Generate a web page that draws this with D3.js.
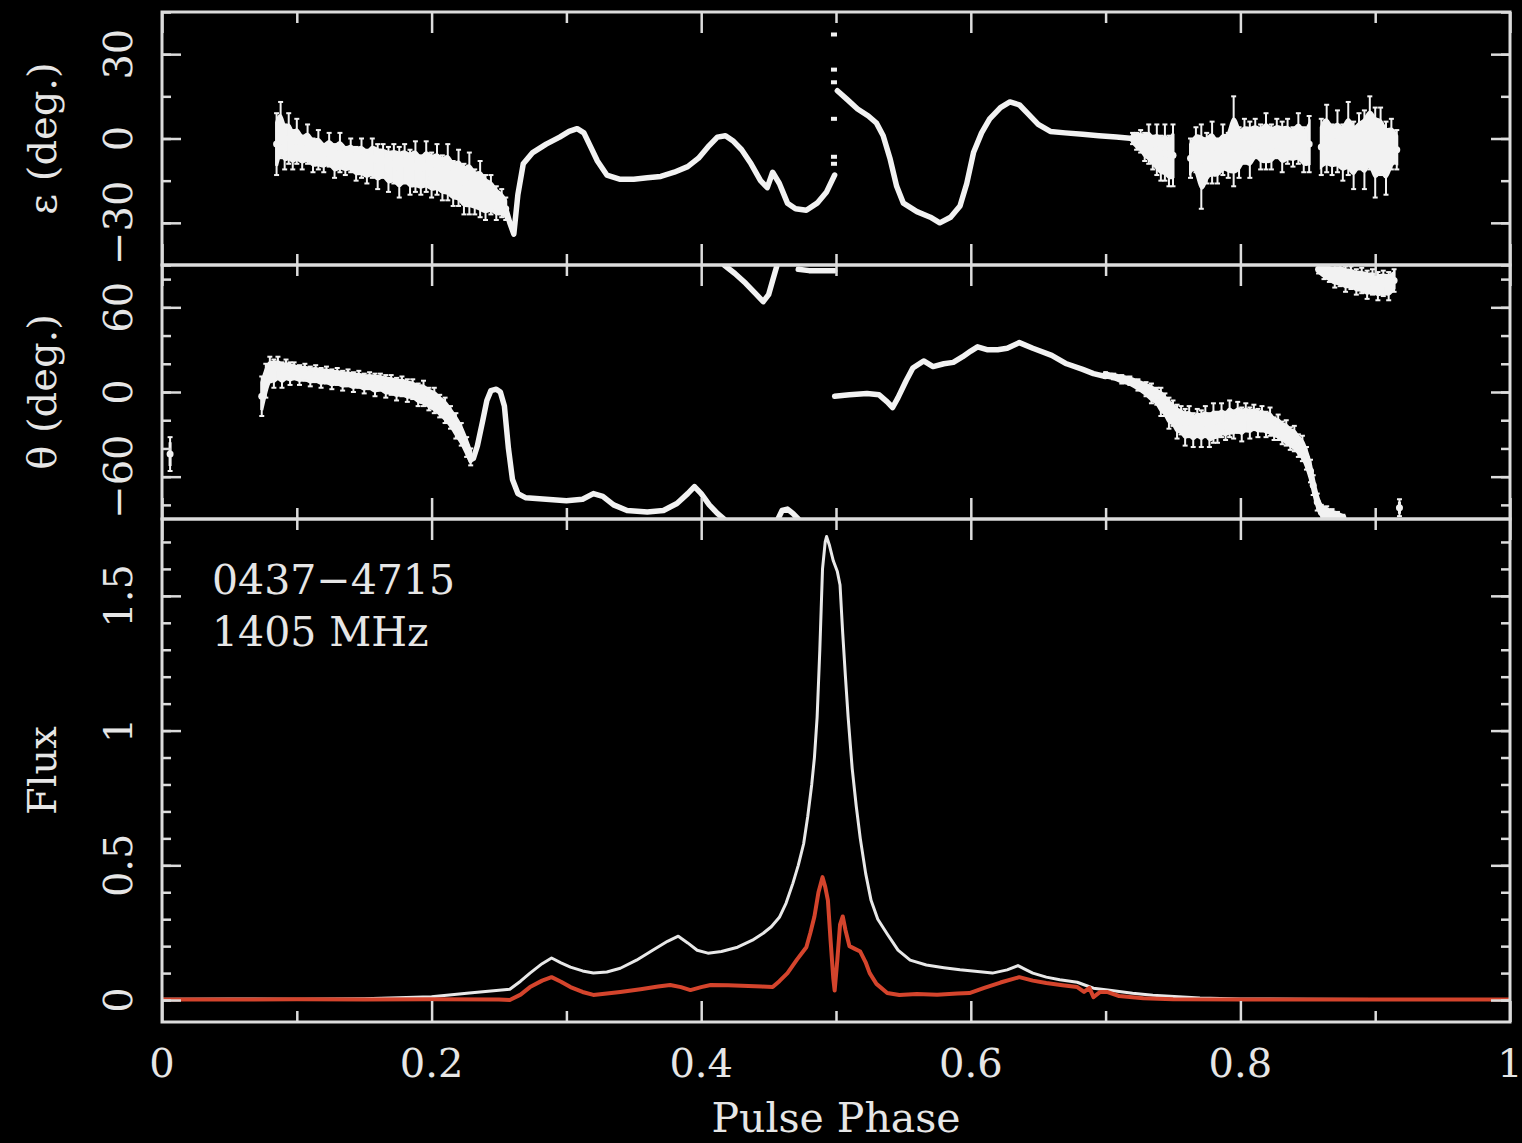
<!DOCTYPE html>
<html>
<head>
<meta charset="utf-8">
<script src="https://cdn.jsdelivr.net/npm/d3@7"></script>
<style>
body { margin: 0; background: #000; }
text { font-family: "DejaVu Serif", serif; fill: #e6e6e6; }
</style>
</head>
<body>
<script>
var width = 1522;
var height = 1143;
var left = 162, right = 1510;

// ---- data: [phase, value] or [phase, value, error] ----

// ellipticity angle, epsilon (deg.)
var epsNoisyA = [[0.085,-2,11],[0.088,3,10],[0.091,-3,8],[0.094,0,9],[0.097,-4,7],[0.100,-1,8],[0.104,-5,6],[0.108,-2,7],
    [0.112,-6,6],[0.116,-4,7],[0.120,-7,5],[0.124,-4,6],[0.128,-8,6],[0.132,-5,7],[0.136,-8,5],[0.140,-6,6],[0.144,-9,6],
    [0.148,-7,7],[0.152,-10,6],[0.156,-7,7],[0.160,-10,8],[0.164,-8,6],[0.168,-11,8],[0.172,-9,7],[0.176,-12,9],
    [0.180,-9,7],[0.184,-12,8],[0.188,-10,9],[0.192,-13,7],[0.196,-10,9],[0.200,-13,8],[0.204,-11,9],[0.208,-14,8],
    [0.212,-12,10],[0.216,-16,8],[0.220,-14,10],[0.224,-18,9],[0.228,-16,11],[0.232,-19,8],[0.236,-18,10],[0.240,-21,8],
    [0.244,-20,7],[0.248,-23,6],[0.252,-23,5],[0.255,-25,4]];
var epsSmoothB = [[0.255,-25],[0.258,-30],[0.261,-34],[0.264,-20],[0.268,-9],[0.275,-5],[0.285,-2],[0.295,0.5],[0.302,2.5],
    [0.308,3.5],[0.313,2],[0.318,-3],[0.323,-8],[0.330,-13],[0.340,-14.5],[0.350,-14.5],[0.360,-14],[0.370,-13.5],
    [0.380,-12],[0.390,-10],[0.398,-7],[0.405,-3],[0.412,0.5],[0.418,1],[0.424,-1],[0.430,-4],[0.437,-9],[0.444,-15],
    [0.449,-17.5],[0.453,-12],[0.458,-16],[0.464,-23],[0.470,-25],[0.478,-25.5],[0.486,-23],[0.493,-19],[0.499,-13]];
var epsDots = [[0.4985,37],[0.4985,24.5],[0.4985,20],[0.4985,7],[0.4985,-6.5],[0.4985,-9]];
var epsSmoothC = [[0.501,17],[0.508,14],[0.516,10.5],[0.524,8],[0.530,5.5],[0.535,1],[0.540,-7],[0.545,-17],[0.550,-23],
    [0.560,-26],[0.570,-28],[0.577,-30],[0.585,-28],[0.592,-24],[0.597,-16],[0.602,-5],[0.608,2],[0.614,7],[0.622,11],
    [0.629,13],[0.636,12],[0.642,9],[0.650,5],[0.659,2.5],[0.670,2],[0.683,1.5],[0.695,1],[0.708,0.5],[0.720,0]];
var epsNoisyD = [[0.720,0,2],[0.723,-1,3],[0.726,-1,4],[0.729,-3,5],[0.732,-2,7],[0.735,-5,6],[0.738,-4,9],[0.741,-7,8],
    [0.744,-5,10],[0.747,-8,9],[0.750,-6,11]];
var epsNoisyE = [[0.763,-7,7],[0.767,-4,8],[0.771,-10,15],[0.775,-7,9],[0.779,-5,11],[0.783,-8,8],[0.787,-4,9],[0.791,-6,8],
    [0.795,-1,16],[0.799,-5,9],[0.803,-1,8],[0.807,-4,10],[0.811,0,7],[0.815,-3,8],[0.819,-1,10],[0.823,-3,8],[0.827,0,7],
    [0.831,-3,9],[0.835,-1,8],[0.839,-3,7],[0.843,0,9],[0.847,-4,8],[0.851,-2,10]];
var epsNoisyF = [[0.860,-3,10],[0.864,0,12],[0.868,-4,9],[0.872,-1,11],[0.876,-5,10],[0.880,0,13],[0.884,-6,12],[0.888,-1,10],
    [0.892,-4,14],[0.896,2,13],[0.900,-5,16],[0.904,-1,12],[0.908,-7,13],[0.912,-2,9],[0.916,-4,7]];

// position angle theta (deg.)
var paNoisyA = [[0.074,-3,14],[0.077,8,12],[0.080,16,9],[0.083,13,10],[0.086,17,8],[0.089,12,9],[0.092,16,7],[0.095,13,8],
    [0.098,15,6],[0.102,12,7],[0.106,14,6],[0.110,11,7],[0.114,13,6],[0.118,10,7],[0.122,12,6],[0.126,9,7],[0.130,11,6],
    [0.134,8,7],[0.138,10,6],[0.142,7,7],[0.146,9,6],[0.150,6,7],[0.154,8,6],[0.158,5,8],[0.162,7,6],[0.166,4,8],
    [0.170,5,7],[0.174,2,8],[0.178,4,7],[0.182,1,8],[0.186,2,7],[0.190,-2,8],[0.194,-1,9],[0.198,-5,8],[0.202,-6,9],
    [0.206,-10,8],[0.210,-13,9],[0.214,-18,8],[0.218,-24,9],[0.222,-30,8],[0.226,-39,7],[0.229,-46,6]];
var paStray = [[0.006,-44,12]];
var paSmoothB = [[0.229,-48],[0.231,-47],[0.234,-38],[0.238,-20],[0.241,-6],[0.244,1],[0.248,2],[0.251,0],[0.254,-10],
    [0.257,-40],[0.260,-62],[0.264,-72],[0.270,-75],[0.285,-76],[0.300,-77],[0.312,-76],[0.320,-72],[0.327,-74],
    [0.335,-80],[0.345,-84],[0.360,-85],[0.372,-84],[0.382,-79],[0.390,-72],[0.395,-67],[0.400,-72],[0.406,-80],
    [0.412,-86],[0.417,-90]];
var paSmoothC = [[0.417,90],[0.425,84],[0.433,77],[0.440,70],[0.446,64],[0.450,69],[0.453,79],[0.456,89]];
var paSmoothD = [[0.457,-90],[0.460,-84],[0.464,-83],[0.468,-86],[0.472,-90]];
var paSmoothE = [[0.472,87],[0.480,86],[0.490,86],[0.499,86]];
var paSmoothF = [[0.499,-3],[0.510,-2],[0.523,-1],[0.532,-2],[0.538,-7],[0.542,-11],[0.546,-4],[0.552,8],[0.557,17],
    [0.565,22],[0.572,18],[0.580,20],[0.587,21],[0.594,25],[0.600,29],[0.605,32],[0.612,30],[0.620,30],[0.627,31],
    [0.636,35],[0.646,31],[0.660,26],[0.671,20],[0.683,16],[0.691,13],[0.700,11]];
var paNoisyG = [[0.700,12,2],[0.706,11,2],[0.712,9,3],[0.718,8,3],[0.724,5,4],[0.730,2,5],[0.734,-1,7],[0.738,-3,6],
    [0.741,-7,10],[0.744,-9,8],[0.747,-15,11],[0.750,-15,9],[0.753,-21,12],[0.756,-20,10],[0.759,-25,13],[0.762,-21,11],
    [0.765,-27,12],[0.768,-22,10],[0.771,-26,13],[0.774,-21,11],[0.777,-27,12],[0.780,-22,14],[0.783,-25,11],
    [0.786,-20,12],[0.789,-24,10],[0.792,-19,13],[0.795,-23,10],[0.798,-18,11],[0.801,-23,12],[0.804,-18,10],
    [0.807,-22,11],[0.810,-18,9],[0.813,-22,10],[0.816,-19,9],[0.819,-23,9],[0.822,-21,10],[0.825,-26,8],[0.828,-25,9],
    [0.831,-29,8],[0.834,-29,9],[0.837,-33,8],[0.840,-33,9],[0.843,-38,8],[0.846,-40,9],[0.849,-47,8],[0.852,-56,8],
    [0.854,-66,7],[0.857,-78,6],[0.860,-85,5],[0.864,-86,5],[0.868,-87,4],[0.872,-88,3],[0.876,-89,2]];
var paNoisyH = [[0.858,87,3],[0.862,85,5],[0.866,84,6],[0.870,82,8],[0.874,83,8],[0.878,80,9],[0.882,81,8],[0.886,78,9],
    [0.890,79,9],[0.894,76,10],[0.898,78,9],[0.902,75,10],[0.906,77,9],[0.910,75,10],[0.914,79,8]];
var paSingle = [[0.918,-82,6]];

// flux profiles: total intensity (white) and linear polarisation (red)
var totalFlux = [[0.00,0.003],[0.05,0.004],[0.10,0.003],[0.15,0.005],[0.20,0.012],[0.228,0.026],[0.258,0.04],[0.266,0.07],
    [0.273,0.10],[0.282,0.135],[0.289,0.156],[0.296,0.138],[0.303,0.122],[0.312,0.108],[0.320,0.100],[0.330,0.104],
    [0.340,0.118],[0.352,0.148],[0.364,0.185],[0.375,0.218],[0.383,0.237],[0.390,0.212],[0.397,0.185],[0.405,0.174],
    [0.415,0.180],[0.427,0.196],[0.438,0.222],[0.446,0.248],[0.452,0.272],[0.458,0.307],[0.463,0.36],[0.468,0.433],
    [0.472,0.50],[0.476,0.58],[0.479,0.68],[0.482,0.80],[0.484,0.90],[0.486,1.05],[0.488,1.30],[0.489,1.45],[0.490,1.60],
    [0.492,1.70],[0.493,1.72],[0.495,1.69],[0.498,1.63],[0.501,1.59],[0.503,1.54],[0.505,1.36],[0.507,1.20],[0.509,1.05],
    [0.512,0.86],[0.515,0.72],[0.518,0.60],[0.522,0.47],[0.526,0.37],[0.531,0.30],[0.538,0.245],[0.546,0.185],
    [0.555,0.148],[0.567,0.13],[0.580,0.12],[0.592,0.112],[0.605,0.106],[0.616,0.10],[0.627,0.112],[0.635,0.128],
    [0.640,0.115],[0.646,0.10],[0.656,0.085],[0.666,0.075],[0.679,0.066],[0.685,0.055],[0.691,0.044],[0.703,0.036],
    [0.720,0.025],[0.735,0.018],[0.770,0.008],[0.800,0.004],[0.850,0.003],[0.900,0.002],[0.950,0.002],[1.000,0.002]];
var linearFlux = [[0.00,0.002],[0.05,0.002],[0.10,0.003],[0.15,0.002],[0.20,0.003],[0.25,0.002],[0.258,0.0],[0.266,0.02],
    [0.273,0.048],[0.282,0.072],[0.289,0.085],[0.296,0.068],[0.303,0.048],[0.312,0.03],[0.320,0.019],[0.330,0.024],
    [0.340,0.03],[0.355,0.04],[0.368,0.05],[0.377,0.056],[0.385,0.048],[0.392,0.037],[0.400,0.048],[0.407,0.056],
    [0.420,0.055],[0.435,0.052],[0.445,0.05],[0.453,0.048],[0.458,0.07],[0.464,0.10],[0.471,0.15],[0.478,0.196],
    [0.481,0.25],[0.484,0.31],[0.487,0.40],[0.490,0.456],[0.492,0.42],[0.494,0.37],[0.496,0.22],[0.498,0.08],
    [0.499,0.035],[0.501,0.15],[0.503,0.28],[0.505,0.31],[0.507,0.26],[0.510,0.20],[0.514,0.19],[0.518,0.18],
    [0.522,0.14],[0.525,0.10],[0.530,0.06],[0.538,0.026],[0.547,0.019],[0.560,0.022],[0.575,0.02],[0.590,0.024],
    [0.599,0.026],[0.610,0.045],[0.622,0.065],[0.636,0.085],[0.646,0.072],[0.656,0.063],[0.668,0.055],[0.679,0.048],
    [0.684,0.03],[0.688,0.045],[0.691,0.011],[0.696,0.03],[0.701,0.03],[0.710,0.015],[0.728,0.007],[0.750,0.003],
    [0.800,0.002],[0.850,0.002],[0.900,0.002],[1.000,0.002]];

// tick labels
var phaseLabels = [0, 0.2, 0.4, 0.6, 0.8, 1];
var epsLabels = [-30, 0, 30];
var paLabels = [-60, 0, 60];
var fluxLabels = [0, 0.5, 1, 1.5];

// ---- layout ----
var panels = [
    { top: 12,  bottom: 265, y: d3.scaleLinear().domain([-45, 45]).range([265, 12]),
      major: [-30, 0, 30], minor: d3.range(-45, 46, 15), labels: epsLabels, title: "\u03b5 (deg.)" },
    { top: 265, bottom: 519, y: d3.scaleLinear().domain([-90, 90]).range([519, 265]),
      major: [-60, 0, 60], minor: d3.range(-80, 81, 20), labels: paLabels, title: "\u03b8 (deg.)" },
    { top: 519, bottom: 1022, y: d3.scaleLinear().domain([-0.0815, 1.7852]).range([1022, 519]),
      major: [0, 0.5, 1, 1.5], minor: d3.range(0, 1.75, 0.1), labels: fluxLabels, title: "Flux" }
];

var x = d3.scaleLinear().domain([0, 1]).range([left, right]);
var fg = "#dcdcdc";
var ink = "#f2f2f2";

var svg = d3.select("body")
    .append("svg")
    .attr("width", width)
    .attr("height", height)
    .style("background", "#000");

var defs = svg.append("defs");
panels.forEach( (p, i) => {
    defs.append("clipPath").attr("id", "clip" + i)
        .append("rect")
        .attr("x", left).attr("y", p.top)
        .attr("width", right - left).attr("height", p.bottom - p.top);
});

function drawSmooth(g, data, y) {
    g.append("path")
        .datum(data)
        .attr("fill", "none")
        .attr("stroke", ink)
        .attr("stroke-width", 5.5)
        .attr("stroke-linejoin", "round")
        .attr("stroke-linecap", "round")
        .attr("d", d3.line().x( (d) => x(d[0]) ).y( (d) => y(d[1]) ));
}

function drawNoisy(g, data, y) {
    // solid band, smoothed, with the individual error bars poking out of it
    g.append("path")
        .datum(data)
        .attr("fill", ink)
        .attr("stroke", ink)
        .attr("stroke-width", 3)
        .attr("d", d3.area()
            .curve(d3.curveBasis)
            .x( (d) => x(d[0]) )
            .y0( (d) => y(d[1] - d[2] * 0.7) )
            .y1( (d) => y(d[1] + d[2] * 0.7) ));
    var bars = g.selectAll(null)
        .data(data)
        .enter()
        .append("g")
        .attr("stroke", ink)
        .attr("stroke-width", 2);
    bars.append("line")
        .attr("x1", (d) => x(d[0])).attr("x2", (d) => x(d[0]))
        .attr("y1", (d) => y(d[1] - d[2])).attr("y2", (d) => y(d[1] + d[2]));
    bars.append("line")
        .attr("x1", (d) => x(d[0]) - 2.5).attr("x2", (d) => x(d[0]) + 2.5)
        .attr("y1", (d) => y(d[1] - d[2])).attr("y2", (d) => y(d[1] - d[2]));
    bars.append("line")
        .attr("x1", (d) => x(d[0]) - 2.5).attr("x2", (d) => x(d[0]) + 2.5)
        .attr("y1", (d) => y(d[1] + d[2])).attr("y2", (d) => y(d[1] + d[2]));
    bars.append("circle")
        .attr("cx", (d) => x(d[0]))
        .attr("cy", (d) => y(d[1]))
        .attr("r", 3.5)
        .attr("fill", ink)
        .attr("stroke", "none");
}

// ---- epsilon panel ----
var gEps = svg.append("g").attr("clip-path", "url(#clip0)");
var yE = panels[0].y;
drawNoisy(gEps, epsNoisyA, yE);
drawSmooth(gEps, epsSmoothB, yE);
drawSmooth(gEps, epsSmoothC, yE);
drawNoisy(gEps, epsNoisyD, yE);
drawNoisy(gEps, epsNoisyE, yE);
drawNoisy(gEps, epsNoisyF, yE);
gEps.selectAll(null)
    .data(epsDots)
    .enter()
    .append("rect")
    .attr("x", (d) => x(d[0]) - 3)
    .attr("y", (d) => yE(d[1]) - 2)
    .attr("width", 6)
    .attr("height", 4)
    .attr("fill", ink);

// ---- position angle panel ----
var gPa = svg.append("g").attr("clip-path", "url(#clip1)");
var yP = panels[1].y;
drawNoisy(gPa, paStray, yP);
drawNoisy(gPa, paNoisyA, yP);
drawSmooth(gPa, paSmoothB, yP);
drawSmooth(gPa, paSmoothC, yP);
drawSmooth(gPa, paSmoothD, yP);
drawSmooth(gPa, paSmoothE, yP);
drawSmooth(gPa, paSmoothF, yP);
drawNoisy(gPa, paNoisyG, yP);
drawNoisy(gPa, paNoisyH, yP);
drawNoisy(gPa, paSingle, yP);

// ---- flux panel ----
var gFlux = svg.append("g").attr("clip-path", "url(#clip2)");
var yF = panels[2].y;
gFlux.append("path")
    .datum(totalFlux)
    .attr("fill", "none")
    .attr("stroke", "#e8e8e8")
    .attr("stroke-width", 3)
    .attr("stroke-linejoin", "round")
    .attr("d", d3.line().x( (d) => x(d[0]) ).y( (d) => yF(d[1]) ));
gFlux.append("path")
    .datum(linearFlux)
    .attr("fill", "none")
    .attr("stroke", "#d4442c")
    .attr("stroke-width", 4)
    .attr("stroke-linejoin", "round")
    .attr("d", d3.line().x( (d) => x(d[0]) ).y( (d) => yF(d[1]) ));

// ---- frames and ticks ----
var majorPhase = d3.range(0, 1.01, 0.2);
var minorPhase = [0.1, 0.3, 0.5, 0.7, 0.9];

panels.forEach( (p) => {
    var g = svg.append("g");
    function tickAxis(axis, values, size, tx, ty) {
        g.append("g")
            .attr("transform", `translate(${tx},${ty})`)
            .call(axis.tickValues(values).tickSize(size).tickFormat(""))
            .call( (s) => s.select(".domain").remove() )
            .selectAll("line")
            .attr("stroke", fg)
            .attr("stroke-width", 2.5);
    }
    tickAxis(d3.axisTop(x), majorPhase, 21, 0, p.bottom);
    tickAxis(d3.axisTop(x), minorPhase, 11, 0, p.bottom);
    tickAxis(d3.axisBottom(x), majorPhase, 21, 0, p.top);
    tickAxis(d3.axisBottom(x), minorPhase, 11, 0, p.top);
    tickAxis(d3.axisRight(p.y), p.major, 19, left, 0);
    tickAxis(d3.axisRight(p.y), p.minor, 9, left, 0);
    tickAxis(d3.axisLeft(p.y), p.major, 19, right, 0);
    tickAxis(d3.axisLeft(p.y), p.minor, 9, right, 0);

    g.append("rect")
        .attr("x", left).attr("y", p.top)
        .attr("width", right - left).attr("height", p.bottom - p.top)
        .attr("fill", "none")
        .attr("stroke", fg)
        .attr("stroke-width", 3);

    // rotated y tick labels
    g.selectAll(null)
        .data(p.labels)
        .enter()
        .append("text")
        .attr("transform", (d) => `translate(132,${p.y(d)}) rotate(-90)`)
        .attr("text-anchor", "middle")
        .attr("font-size", 40)
        .text( (d) => d < 0 ? "\u2212" + Math.abs(d) : String(d) );

    // panel title
    g.append("text")
        .attr("transform", `translate(56,${(p.top + p.bottom) / 2}) rotate(-90)`)
        .attr("text-anchor", "middle")
        .attr("font-size", 40)
        .text(p.title);
});

// x tick labels and title
svg.selectAll(null)
    .data(phaseLabels)
    .enter()
    .append("text")
    .attr("x", (d) => x(d))
    .attr("y", 1077)
    .attr("text-anchor", "middle")
    .attr("font-size", 40)
    .text( (d) => String(d) );

svg.append("text")
    .attr("x", x(0.5))
    .attr("y", 1132)
    .attr("text-anchor", "middle")
    .attr("font-size", 41)
    .text("Pulse Phase");

svg.append("text")
    .attr("x", 212)
    .attr("y", 594)
    .attr("font-size", 41)
    .text("0437\u22124715");
svg.append("text")
    .attr("x", 212)
    .attr("y", 646)
    .attr("font-size", 41)
    .text("1405 MHz");
</script>
</body>
</html>
